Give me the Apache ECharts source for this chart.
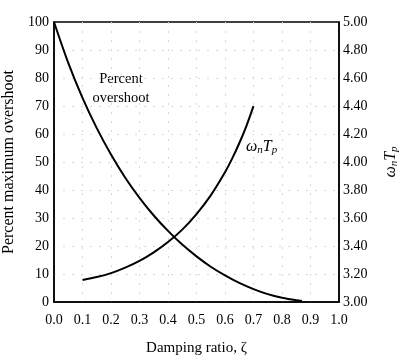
<!DOCTYPE html>
<html><head><meta charset="utf-8">
<script src="https://cdn.jsdelivr.net/npm/echarts@6/dist/echarts.min.js"></script>
<style>html,body{margin:0;padding:0;background:#fff}#c{width:406px;height:362px}</style>
</head><body><div id="c"></div>
<script>
const zetaOS = [0, 0.05, 0.1, 0.15, 0.2, 0.25, 0.3, 0.35, 0.4, 0.45, 0.5, 0.55, 0.6, 0.65, 0.7, 0.75, 0.8, 0.85, 0.87];
const overshoot = [100, 85.4, 72.9, 62.1, 52.7, 44.4, 37.2, 30.9, 25.4, 20.5, 16.3, 12.6, 9.5, 6.8, 4.6, 2.8, 1.5, 0.6, 0.4];
const zetaTp = [0.1, 0.15, 0.2, 0.25, 0.3, 0.35, 0.4, 0.45, 0.5, 0.55, 0.6, 0.625, 0.65, 0.675, 0.7];
const wnTp = [3.157, 3.178, 3.206, 3.245, 3.293, 3.354, 3.428, 3.517, 3.628, 3.762, 3.927, 4.024, 4.134, 4.257, 4.399];

const chart = echarts.init(document.getElementById('c'));
const font = '"Liberation Serif", "DejaVu Serif", serif';
const split = {show:true, showMinLine:false, showMaxLine:false, lineStyle:{color:'#d8d8d8', type:[2,7], width:1}};
chart.setOption({
  animation:false,
  textStyle:{fontFamily:font},
  grid:{left:54, right:67, top:22, bottom:60, outerBoundsMode:'none', containLabel:false,
    show:true, borderColor:'#000', borderWidth:1.5, backgroundColor:'transparent'},
  xAxis:{type:'value', min:0, max:1, interval:0.1,
    axisLine:{show:true, lineStyle:{color:'#000', width:1.5}}, axisTick:{show:false},
    axisLabel:{color:'#000', fontFamily:font, fontSize:14, margin:11, formatter:v=>v.toFixed(1)},
    splitLine:split,
    name:'Damping ratio, ζ', nameLocation:'middle', nameGap:39,
    nameTextStyle:{color:'#000', fontFamily:font, fontSize:15}},
  yAxis:[
    {type:'value', min:0, max:100, interval:10, position:'left',
      axisLine:{show:true, lineStyle:{color:'#000', width:1.5}}, axisTick:{show:false},
      axisLabel:{color:'#000', fontFamily:font, fontSize:14, margin:5},
      splitLine:split,
      name:'Percent maximum overshoot', nameLocation:'middle', nameGap:29,
      nameTextStyle:{color:'#000', fontFamily:font, fontSize:16}},
    {type:'value', min:3, max:5, interval:0.2, position:'right',
      axisLine:{show:true, lineStyle:{color:'#000', width:1.5}}, axisTick:{show:false},
      axisLabel:{color:'#000', fontFamily:font, fontSize:14, margin:4, formatter:v=>v.toFixed(2)},
      splitLine:{show:false},
      name:'{i|ω}{s|n}{i|T}{s|p}', nameLocation:'middle', nameGap:43, nameRotate:90,
      nameTextStyle:{color:'#000', fontFamily:font, fontSize:15,
        rich:{i:{fontStyle:'italic', fontFamily:font, fontSize:16, color:'#000'},
              s:{fontStyle:'italic', fontFamily:font, fontSize:11, color:'#000', verticalAlign:'bottom', padding:[7,0,0,0]}}}}
  ],
  series:[
    {type:'line', yAxisIndex:0, data:zetaOS.map((z,i)=>[z, overshoot[i]]), smooth:0.3, showSymbol:false,
      lineStyle:{color:'#000', width:2}},
    {type:'line', yAxisIndex:1, data:zetaTp.map((z,i)=>[z, wnTp[i]]), smooth:0.3, showSymbol:false,
      lineStyle:{color:'#000', width:2}}
  ],
  graphic:[
    {type:'text', x:121, y:70, style:{text:'Percent\novershoot', fontFamily:font, fontSize:14.5, fill:'#000', align:'center', lineHeight:19}},
    {type:'text', x:246, y:137, style:{text:'{i|ω}{s|n}{i|T}{s|p}', fontFamily:font,
      rich:{i:{fontStyle:'italic', fontFamily:font, fontSize:16, fill:'#000'},
            s:{fontStyle:'italic', fontFamily:font, fontSize:11, fill:'#000', verticalAlign:'bottom', padding:[8,0,0,0]}}}}
  ]
});
</script></body></html>
